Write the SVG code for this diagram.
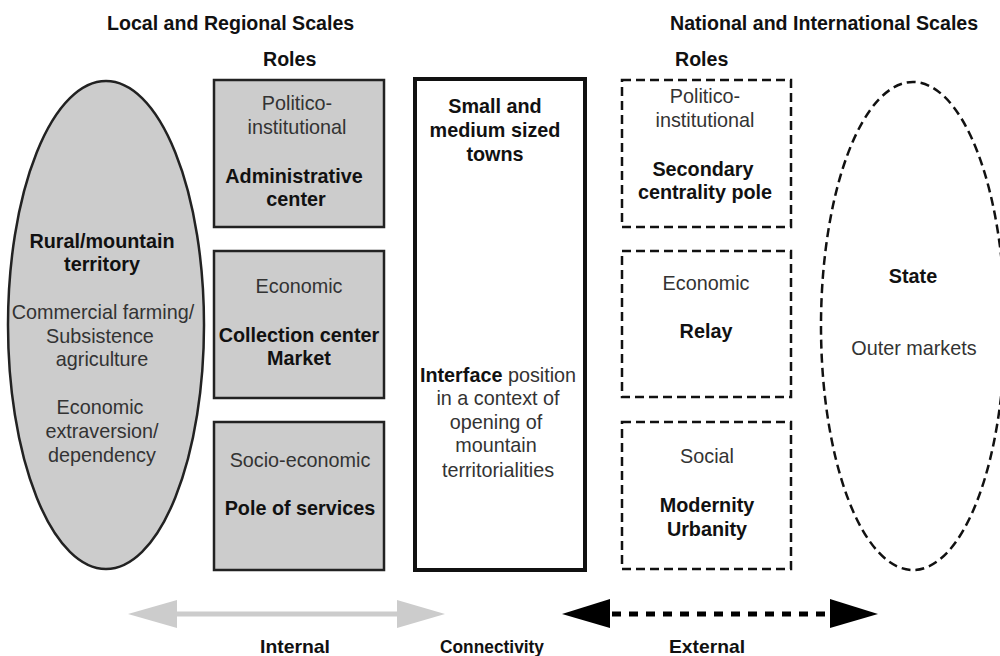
<svg xmlns="http://www.w3.org/2000/svg" width="1000" height="656" viewBox="0 0 1000 656">
<style>
text{font-family:"Liberation Sans",Arial,sans-serif;font-size:19.8px;text-anchor:middle;fill:#333}
.b{font-weight:bold;fill:#111}
.h{font-weight:bold;fill:#111;text-anchor:start;font-size:19.6px}
.l{font-weight:bold;fill:#111;font-size:19px}
.g{fill:#cccccc;stroke:#222;stroke-width:2.5}
.d{fill:none;stroke:#111;stroke-width:2.5;stroke-dasharray:9 5}
</style>
<rect width="1000" height="656" fill="#fff"/>
<g id="headers">
<text class="h" x="107" y="30">Local and Regional Scales</text>
<text class="h" x="263" y="66">Roles</text>
<text class="h" x="670" y="30">National and International Scales</text>
<text class="h" x="675" y="66">Roles</text>
</g>
<g id="rural">
<ellipse class="g" cx="106" cy="325" rx="98" ry="244"/>
<text class="b" x="102" y="248">Rural/mountain</text>
<text class="b" x="102" y="271">territory</text>
<text x="103" y="319">Commercial  farming/</text>
<text x="100" y="343">Subsistence</text>
<text x="102" y="366">agriculture</text>
<text x="100" y="414">Economic</text>
<text x="102" y="438">extraversion/</text>
<text x="102" y="462">dependency</text>
</g>
<g id="admin">
<rect class="g" x="214" y="80" width="170" height="147"/>
<text x="297" y="110">Politico-</text>
<text x="297" y="134">institutional</text>
<text class="b" x="294" y="183">Administrative</text>
<text class="b" x="296" y="206">center</text>
</g>
<g id="collection">
<rect class="g" x="214" y="251" width="170" height="147"/>
<text x="299" y="293">Economic</text>
<text class="b" x="299" y="342">Collection center</text>
<text class="b" x="299" y="365">Market</text>
</g>
<g id="services">
<rect class="g" x="214" y="422" width="170" height="148"/>
<text x="300" y="467">Socio-economic</text>
<text class="b" x="300" y="515">Pole of services</text>
</g>
<g id="towns">
<rect x="415" y="79" width="170" height="491" fill="#fff" stroke="#111" stroke-width="4"/>
<text class="b" x="495" y="113">Small and</text>
<text class="b" x="495" y="137">medium sized</text>
<text class="b" x="495" y="161">towns</text>
<text x="498" y="382"><tspan class="b">Interface</tspan> position</text>
<text x="498" y="405">in a context of</text>
<text x="496" y="429">opening of</text>
<text x="496" y="452">mountain</text>
<text x="498" y="477">territorialities</text>
</g>
<g id="secondary">
<rect class="d" x="622" y="80" width="169" height="147"/>
<text x="705" y="103">Politico-</text>
<text x="705" y="127">institutional</text>
<text class="b" x="703" y="176">Secondary</text>
<text class="b" x="705" y="199">centrality pole</text>
</g>
<g id="relay">
<rect class="d" x="622" y="251" width="169" height="146"/>
<text x="706" y="290">Economic</text>
<text class="b" x="706" y="338">Relay</text>
</g>
<g id="modernity">
<rect class="d" x="622" y="422" width="169" height="147"/>
<text x="707" y="463">Social</text>
<text class="b" x="707" y="512">Modernity</text>
<text class="b" x="707" y="536">Urbanity</text>
</g>
<g id="state">
<ellipse class="d" cx="913" cy="326" rx="92" ry="244"/>
<text class="b" x="913" y="283">State</text>
<text x="914" y="355">Outer  markets</text>
</g>
<g id="connectors">
<line x1="176" y1="614" x2="398" y2="614" stroke="#cccccc" stroke-width="5"/>
<polygon points="128,614 177,600 177,628" fill="#cccccc"/>
<polygon points="445,614 397,600 397,628" fill="#cccccc"/>
<line x1="612" y1="614" x2="830" y2="614" stroke="#000" stroke-width="5" stroke-dasharray="9 8"/>
<polygon points="562,614 610,599 610,628" fill="#000"/>
<polygon points="878,614 830,599 830,628" fill="#000"/>
</g>
<g id="labels">
<text class="l" x="295" y="653" textLength="70" lengthAdjust="spacingAndGlyphs">Internal</text>
<text class="l" x="492" y="653" textLength="104" lengthAdjust="spacingAndGlyphs">Connectivity</text>
<text class="l" x="707" y="653" textLength="76" lengthAdjust="spacingAndGlyphs">External</text>
</g>
</svg>
